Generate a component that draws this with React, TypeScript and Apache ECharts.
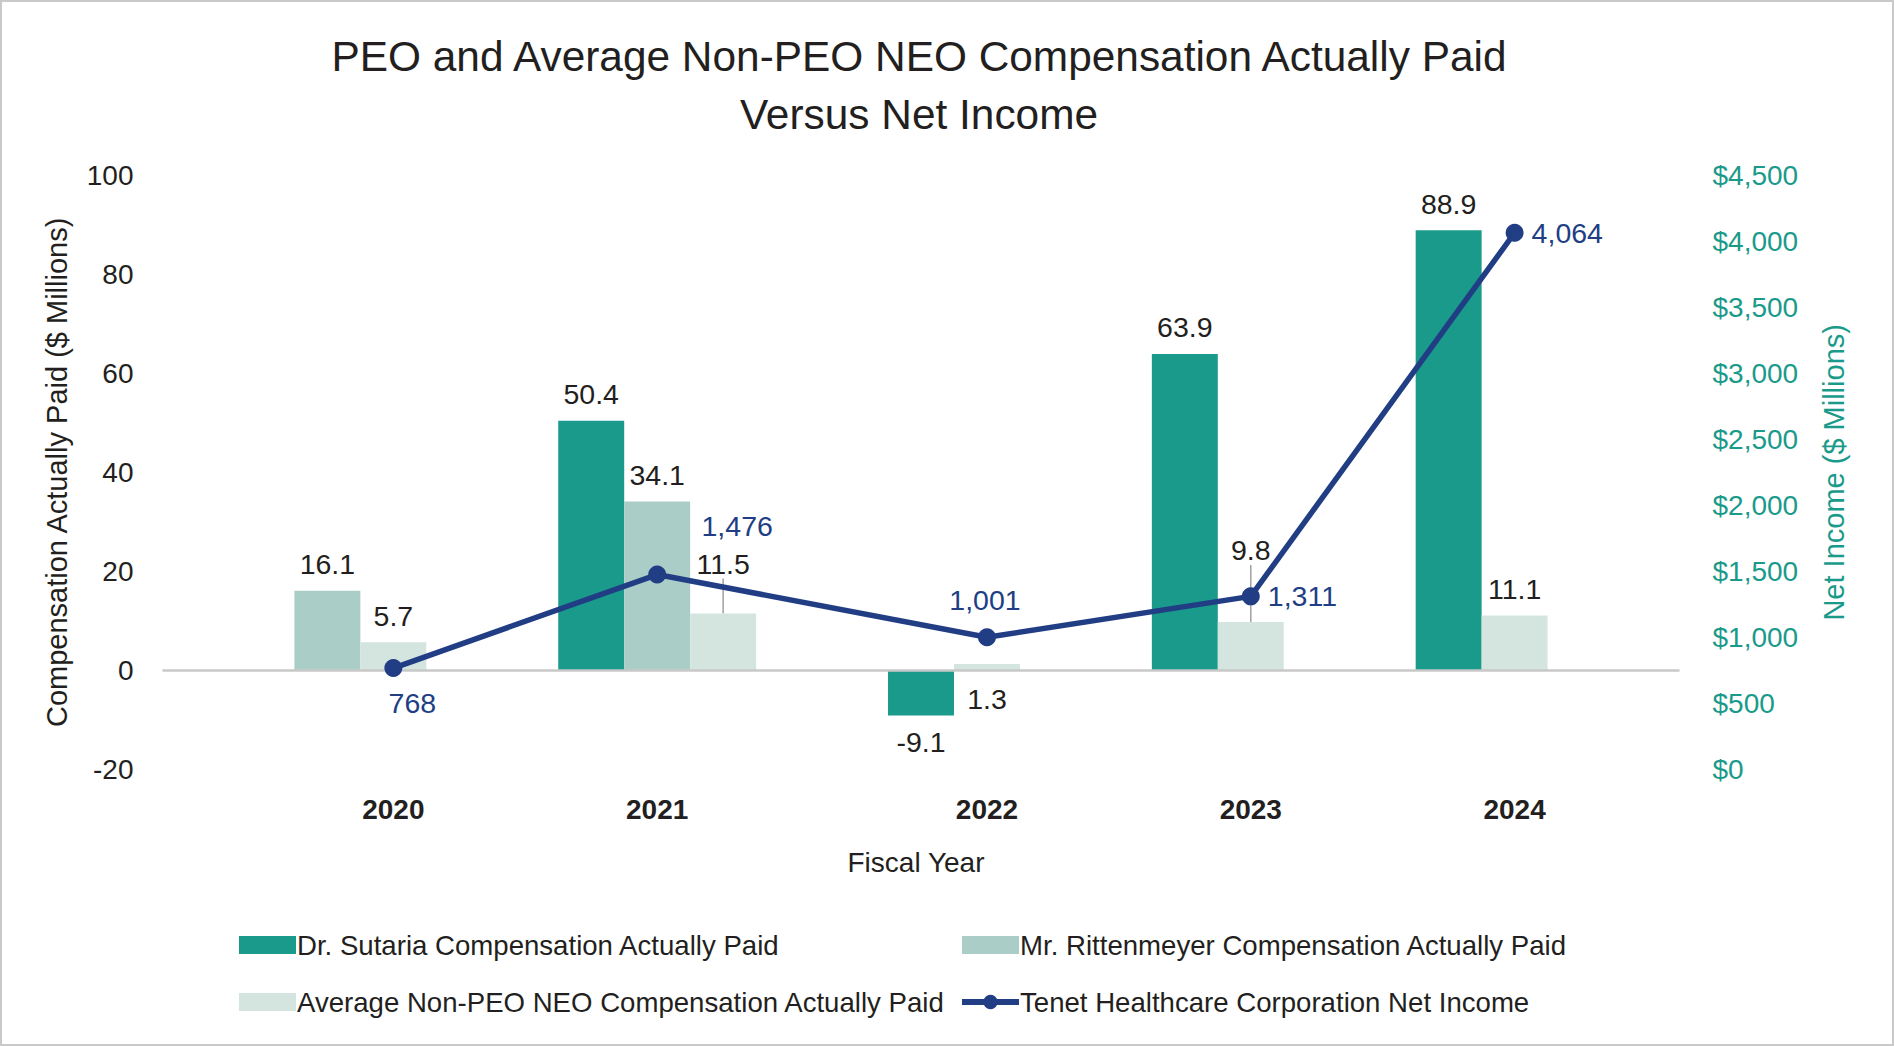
import React, { useEffect, useRef } from "react";
import * as echarts from "echarts";

// ---- data ----
const years = ["2020", "2021", "2022", "2023", "2024"];
const sutaria: (number | null)[] = [null, 50.4, -9.1, 63.9, 88.9];
const rittenmeyer: (number | null)[] = [16.1, 34.1, null, null, null];
const avgNonPeo: (number | null)[] = [5.7, 11.5, 1.3, 9.8, 11.1];
const netIncome: number[] = [768, 1476, 1001, 1311, 4064];

const seriesNames = [
  "Dr. Sutaria Compensation Actually Paid",
  "Mr. Rittenmeyer Compensation Actually Paid",
  "Average Non-PEO NEO Compensation Actually Paid",
  "Tenet Healthcare Corporation Net Income",
];

// ---- layout (slot positions on a fine category axis) ----
const SLOTS = 23;
const sutariaSlot = [null, 6, 11, 15, 19];
const rittSlot = [2, 7, null, null, null];
const avgSlot = [3, 8, 12, 16, 20];
const yearSlot = [3, 7, 12, 16, 20];

const FONT = "'Liberation Sans', Arial, Helvetica, sans-serif";
const TXT = "#231f20";
const TEAL = "#1a9a8a";
const RITT = "#aacdc7";
const AVG = "#d4e5e0";
const NAVY = "#213e85";

function slotted(values: (number | null)[], slots: (number | null)[], deco: (v: number, i: number) => any) {
  const arr: any[] = new Array(SLOTS).fill(null);
  values.forEach((v, i) => {
    const s = slots[i];
    if (s != null && v != null) arr[s] = deco(v, i);
  });
  return arr;
}

const barLabel = {
  show: true,
  position: "top",
  distance: 12,
  fontSize: 28.5,
  fontFamily: FONT,
  color: TXT,
  formatter: (p: any) => Number(p.value).toFixed(1),
};

export default function App() {
  const ref = useRef<HTMLDivElement>(null);
  useEffect(() => {
    if (!ref.current) return;
    const chart = echarts.init(ref.current, undefined, { renderer: "svg" });

    const categories = Array.from({ length: SLOTS }, (_, i) => `s${i}`);
    const slotLabels: string[] = new Array(SLOTS).fill("");
    years.forEach((y, i) => (slotLabels[yearSlot[i]] = y));

    const sutariaData = slotted(sutaria, sutariaSlot, (v) =>
      v < 0 ? { value: v, label: { position: "bottom", distance: 12 } } : { value: v }
    );
    const rittData = slotted(rittenmeyer, rittSlot, (v) => ({ value: v }));
    const avgMoves: Record<number, number> = {};
    avgMoves[avgSlot[1]] = -23;
    avgMoves[avgSlot[3]] = -45;
    const avgData = slotted(avgNonPeo, avgSlot, (v, i) => {
      if (i === 2) return { value: v, label: { position: "bottom", distance: 14 } };
      if (i === 1 || i === 3) return { value: v, labelLine: { show: true } };
      return { value: v };
    });

    const lineLabelSpecs: any[] = [
      { position: "bottom", distance: 5, offset: [19, 6] },
      { position: "top", distance: 5, offset: [80, -20] },
      { position: "top", distance: 5, offset: [-2, -9] },
      { position: "right", distance: 8 },
      { position: "right", distance: 8 },
    ];
    const lineData = slotted(netIncome, yearSlot, (v, i) => ({
      value: v,
      label: lineLabelSpecs[i],
    }));

    const barCommon = {
      type: "bar",
      barWidth: "100%",
      barGap: "-100%",
      yAxisIndex: 0,
      label: barLabel,
    };

    const legendText = { fontSize: 27.6, color: TXT, fontFamily: FONT, padding: [0, 0, 0, -4] };

    chart.setOption({
      animation: false,
      textStyle: { fontFamily: FONT },
      title: {
        text: "PEO and Average Non-PEO NEO Compensation Actually Paid\nVersus Net Income",
        left: 914,
        textAlign: "center",
        top: 22,
        textStyle: { fontSize: 42.4, fontWeight: "normal", color: TXT, lineHeight: 58, fontFamily: FONT },
      },
      graphic: [
        {
          type: "rect",
          shape: { x: 1, y: 1, width: 1892, height: 1044 },
          style: { fill: "none", stroke: "#c9c9c9", lineWidth: 2 },
          silent: true,
        },
      ],
      legend: [
        {
          data: [
            { name: seriesNames[0], icon: "rect" },
            { name: seriesNames[2], icon: "rect" },
          ],
          orient: "vertical",
          left: 234,
          top: 926,
          itemWidth: 57,
          itemHeight: 18,
          itemGap: 29,
          textStyle: legendText,
        },
        {
          data: [{ name: seriesNames[1], icon: "rect" }, { name: seriesNames[3] }],
          orient: "vertical",
          left: 954,
          top: 926,
          itemWidth: 57,
          itemHeight: 18,
          itemGap: 29,
          lineStyle: { width: 6 },
          textStyle: legendText,
        },
      ],
      grid: { left: 162.5, right: 214.5, top: 175.2, bottom: 1046 - 769.5, containLabel: false },
      xAxis: {
        type: "category",
        data: categories,
        boundaryGap: true,
        axisLine: { show: false },
        axisTick: { show: false },
        splitLine: { show: false },
        axisLabel: {
          interval: 0,
          margin: 26,
          fontSize: 28,
          fontWeight: "bold",
          color: TXT,
          fontFamily: FONT,
          formatter: (_v: string, i: number) => slotLabels[i],
        },
        name: "Fiscal Year",
        nameLocation: "middle",
        nameGap: 79,
        nameTextStyle: { fontSize: 28, color: TXT, fontFamily: FONT, padding: [0, 10, 0, 0] },
      },
      yAxis: [
        {
          type: "value",
          min: -20,
          max: 100,
          interval: 20,
          axisLine: { show: false },
          axisTick: { show: false },
          splitLine: { show: false },
          axisLabel: { margin: 29, fontSize: 28, color: TXT, fontFamily: FONT },
          name: "Compensation Actually Paid ($ Millions)",
          nameLocation: "middle",
          nameRotate: 90,
          nameGap: 91,
          nameTextStyle: { fontSize: 29, color: TXT, fontFamily: FONT },
        },
        {
          type: "value",
          min: 0,
          max: 4500,
          interval: 500,
          position: "right",
          axisLine: { show: false },
          axisTick: { show: false },
          splitLine: { show: false },
          axisLabel: {
            margin: 33,
            fontSize: 28,
            color: TEAL,
            fontFamily: FONT,
            formatter: (v: number) => "$" + v.toLocaleString("en-US"),
          },
          name: "Net Income ($ Millions)",
          nameLocation: "middle",
          nameRotate: 90,
          nameGap: 140,
          nameTextStyle: { fontSize: 29, color: TEAL, fontFamily: FONT },
        },
      ],
      series: [
        {
          ...barCommon,
          name: seriesNames[0],
          itemStyle: { color: TEAL },
          data: sutariaData,
          markLine: {
            silent: true,
            symbol: ["none", "none"],
            label: { show: false },
            lineStyle: { color: "#c8c8c8", width: 2.5, type: "solid" },
            data: [{ yAxis: 0 }],
          },
        },
        { ...barCommon, name: seriesNames[1], itemStyle: { color: RITT }, data: rittData },
        {
          ...barCommon,
          name: seriesNames[2],
          itemStyle: { color: AVG },
          data: avgData,
          labelLine: { show: false, lineStyle: { color: "#a0a0a0", width: 1.5 } },
          labelLayout: (p: any) => {
            const d = avgMoves[p.dataIndex];
            return d ? { dy: d } : {};
          },
        },
        {
          type: "line",
          name: seriesNames[3],
          yAxisIndex: 1,
          data: lineData,
          connectNulls: true,
          symbol: "circle",
          symbolSize: 18,
          lineStyle: { color: NAVY, width: 5.5 },
          itemStyle: { color: NAVY },
          z: 5,
          label: {
            show: true,
            fontSize: 28.5,
            color: NAVY,
            fontFamily: FONT,
            formatter: (p: any) => Number(p.value).toLocaleString("en-US"),
          },
        },
      ],
    });
    return () => chart.dispose();
  }, []);

  return (
    <div
      ref={ref}
      style={{ position: "absolute", left: 0, top: 0, width: 1894, height: 1046, background: "#fff" }}
    />
  );
}
